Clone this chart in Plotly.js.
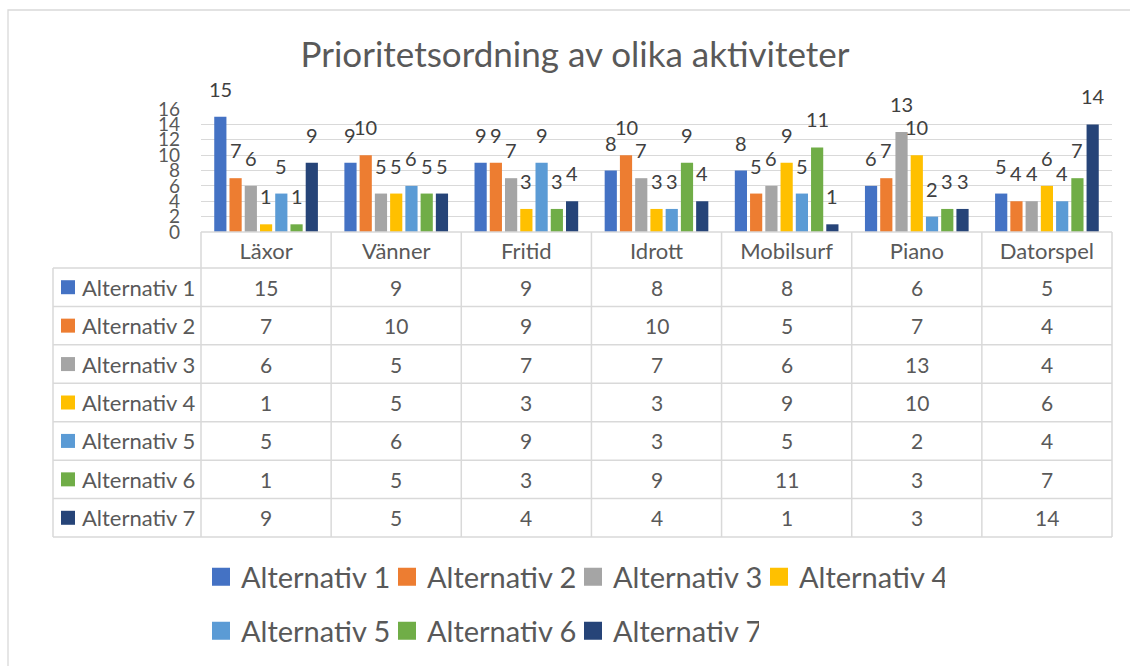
<!DOCTYPE html>
<html>
<head>
<meta charset="utf-8">
<script src="https://cdn.plot.ly/plotly-3.0.1.min.js"></script>
<style>
html,body{margin:0;padding:0;background:#ffffff;}
#chart{width:1130px;height:666px;}
</style>
</head>
<body>
<div id="chart"></div>
<script>
// ---- data ----
const categories = ['Läxor', 'Vänner', 'Fritid', 'Idrott', 'Mobilsurf', 'Piano', 'Datorspel'];
const seriesNames = ['Alternativ 1', 'Alternativ 2', 'Alternativ 3', 'Alternativ 4', 'Alternativ 5', 'Alternativ 6', 'Alternativ 7'];
const alternativ1 = [15, 9, 9, 8, 8, 6, 5];
const alternativ2 = [7, 10, 9, 10, 5, 7, 4];
const alternativ3 = [6, 5, 7, 7, 6, 13, 4];
const alternativ4 = [1, 5, 3, 3, 9, 10, 6];
const alternativ5 = [5, 6, 9, 3, 5, 2, 4];
const alternativ6 = [1, 5, 3, 9, 11, 3, 7];
const alternativ7 = [9, 5, 4, 4, 1, 3, 14];
const yTickValues = [0, 2, 4, 6, 8, 10, 12, 14, 16];
const titleText = 'Prioritetsordning av olika aktiviteter';

// ---- style ----
const seriesValues = [alternativ1, alternativ2, alternativ3, alternativ4, alternativ5, alternativ6, alternativ7];
const colors = ['#4472C4', '#ED7D31', '#A5A5A5', '#FFC000', '#5B9BD5', '#70AD47', '#264478'];
const FONT = 'Lato, "Open Sans", sans-serif';
const GRAY = '#595959';
const LINE = '#D9D9D9';

// layout geometry (pixels)
const W = 1130, H = 666;
const L = 201, R = 1112, T = 109, B = 232;   // bar plot area
const paperBottom = H;                         // paper spans T..H
const xp = px => (px - L) / (R - L);
const yp = py => (paperBottom - py) / (paperBottom - T);
const tableLeft = 53;
const headerBottom = 268;
const tableBottom = 537;
const rowH = (tableBottom - headerBottom) / seriesNames.length;
const bargap = 0.18, bargroupgap = 0.2;
const slot = (1 - bargap) / seriesNames.length;

// ---- traces ----
const barTraces = seriesNames.map((name, j) => ({
  type: 'bar',
  name: name,
  x: categories,
  y: seriesValues[j],
  marker: {color: colors[j], line: {width: 0}},
  legendgroup: name,
  showlegend: false,
  hoverinfo: 'x+y+name'
}));
// legend entries (square swatches) linked to the bar series
const legendTraces = seriesNames.map((name, j) => ({
  type: 'scatter',
  mode: 'markers',
  name: name,
  x: [null],
  y: [null],
  marker: {symbol: 'square', size: 16, color: colors[j], line: {width: 2, color: colors[j]}},
  legendgroup: name,
  legend: j < 4 ? 'legend' : 'legend2',
  hoverinfo: 'skip'
}));

// ---- annotations ----
const annotations = [];
// data labels above bars
seriesValues.forEach((vals, j) => {
  vals.forEach((v, i) => {
    annotations.push({
      xref: 'x', yref: 'y',
      x: i + (j - (seriesNames.length - 1) / 2) * slot,
      y: v,
      text: String(v),
      showarrow: false,
      xanchor: 'center', yanchor: 'bottom',
      yshift: 14,
      font: {family: FONT, size: 20, color: '#404040'}
    });
  });
});
// table: series labels and values
const shapes = [];
seriesNames.forEach((name, j) => {
  const cy = headerBottom + (j + 0.5) * rowH;
  annotations.push({
    xref: 'paper', yref: 'paper',
    x: xp(80), y: yp(cy),
    text: name, showarrow: false,
    xanchor: 'left', yanchor: 'middle',
    font: {family: FONT, size: 22, color: GRAY}
  });
  shapes.push({
    type: 'rect', xref: 'paper', yref: 'paper',
    x0: xp(61), x1: xp(75), y0: yp(cy - 7), y1: yp(cy + 7),
    fillcolor: colors[j], line: {width: 0}
  });
  seriesValues[j].forEach((v, i) => {
    annotations.push({
      xref: 'x', yref: 'paper',
      x: categories[i], y: yp(cy),
      text: String(v), showarrow: false,
      xanchor: 'center', yanchor: 'middle',
      font: {family: FONT, size: 21, color: GRAY}
    });
  });
});

// table grid lines
const lineStyle = {color: LINE, width: 1.5};
shapes.push({type: 'line', xref: 'paper', yref: 'paper', x0: 0, x1: 1, y0: yp(B), y1: yp(B), line: lineStyle});
for (let k = 0; k <= seriesNames.length; k++) {
  const py = headerBottom + k * rowH;
  shapes.push({type: 'line', xref: 'paper', yref: 'paper', x0: xp(tableLeft), x1: 1, y0: yp(py), y1: yp(py), line: lineStyle});
}
shapes.push({type: 'line', xref: 'paper', yref: 'paper', x0: xp(tableLeft), x1: xp(tableLeft), y0: yp(headerBottom), y1: yp(tableBottom), line: lineStyle});
for (let c = 0; c <= categories.length; c++) {
  const x = c / categories.length;
  shapes.push({type: 'line', xref: 'paper', yref: 'paper', x0: x, x1: x, y0: yp(B), y1: yp(tableBottom), line: lineStyle});
}
// outer chart border
shapes.push({type: 'rect', xref: 'paper', yref: 'paper', x0: xp(8), x1: xp(1140), y0: yp(10), y1: yp(690), line: {color: LINE, width: 1.3}, fillcolor: 'rgba(0,0,0,0)'});

const legendBase = {
  orientation: 'h', xanchor: 'left', yanchor: 'middle',
  font: {family: FONT, size: 29, color: GRAY},
  bgcolor: 'rgba(0,0,0,0)', borderwidth: 0,
  entrywidth: 141, entrywidthmode: 'pixels',
  itemsizing: 'trace',
  itemclick: false, itemdoubleclick: false
};

const layout = {
  width: W, height: H,
  margin: {l: L, r: W - R, t: T, b: H - paperBottom, pad: 0, autoexpand: false},
  paper_bgcolor: '#ffffff', plot_bgcolor: '#ffffff',
  font: {family: FONT, color: GRAY},
  title: {
    text: titleText,
    font: {family: FONT, size: 35, color: GRAY},
    xref: 'container', yref: 'container',
    x: 575 / W, y: 1 - 55 / H, xanchor: 'center', yanchor: 'middle'
  },
  barmode: 'group', bargap: bargap, bargroupgap: bargroupgap,
  xaxis: {
    type: 'category', range: [-0.5, categories.length - 0.5],
    showgrid: false, showline: false, zeroline: false, ticks: '',
    tickfont: {family: FONT, size: 22, color: GRAY},
    ticklabelstandoff: 4, fixedrange: true
  },
  yaxis: {
    domain: [yp(B), 1],
    range: [0, 16], tickmode: 'array', tickvals: yTickValues,
    showgrid: true, gridcolor: LINE, gridwidth: 1,
    showline: false, zeroline: false, ticks: '',
    tickfont: {family: FONT, size: 19, color: GRAY},
    ticklabelstandoff: 20, fixedrange: true
  },
  legend: Object.assign({}, legendBase, {x: 0, y: yp(577)}),
  legend2: Object.assign({}, legendBase, {x: 0, y: yp(631)}),
  annotations: annotations,
  shapes: shapes,
  showlegend: true
};

Plotly.newPlot('chart', barTraces.concat(legendTraces), layout, {displayModeBar: false, staticPlot: true});
</script>
</body>
</html>
